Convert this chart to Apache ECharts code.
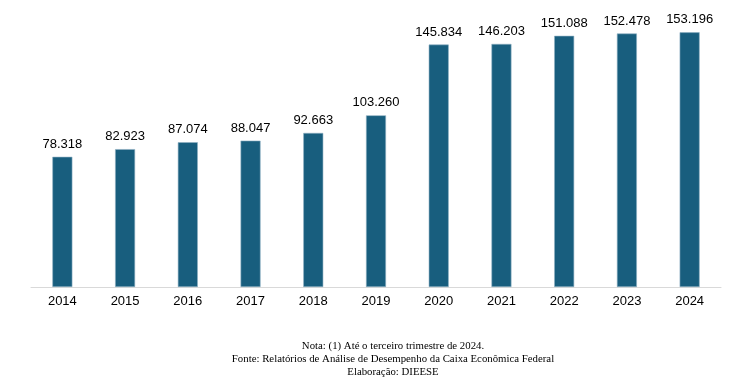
<!DOCTYPE html>
<html><head><meta charset="utf-8">
<script src="https://cdn.jsdelivr.net/npm/echarts@6/dist/echarts.min.js"></script>
<style>html,body{margin:0;padding:0;background:#fff}#c{width:732px;height:389px}</style>
</head><body><div id="c"></div>
<script>
const categories = ['2014','2015','2016','2017','2018','2019','2020','2021','2022','2023','2024'];
const values = [78.318, 82.923, 87.074, 88.047, 92.663, 103.260, 145.834, 146.203, 151.088, 152.478, 153.196];
const notes = ['Nota: (1) Até o terceiro trimestre de 2024.','Fonte: Relatórios de Análise de Desempenho da Caixa Econômica Federal','Elaboração: DIEESE'];
const chart = echarts.init(document.getElementById('c'));
chart.setOption({
  animation:false,
  grid:{left:31, right:11, top:21, bottom:102},
  xAxis:{type:'category', data:categories,
    axisLine:{lineStyle:{color:'#d9d9d9', width:1}}, axisTick:{show:false},
    axisLabel:{color:'#000', fontSize:13, fontFamily:'Liberation Sans, Arial', margin:8}},
  yAxis:{type:'value', min:0, max:160, show:false, splitLine:{show:false}},
  series:[{type:'bar', data:values, barWidth:20,
    itemStyle:{color:'#185e7e', borderColor:'#8fb0c2', borderWidth:0.6},
    label:{show:true, position:'top', distance:6, color:'#000', fontSize:13, fontFamily:'Liberation Sans, Arial',
      formatter:p=>p.value.toFixed(3)}}],
  graphic:[{type:'text', x:393, y:340, style:{text:notes.join('\n'), align:'center', fill:'#000', font:'10.8px "Liberation Serif", "Times New Roman", serif', lineHeight:13}}]
});
</script></body></html>
